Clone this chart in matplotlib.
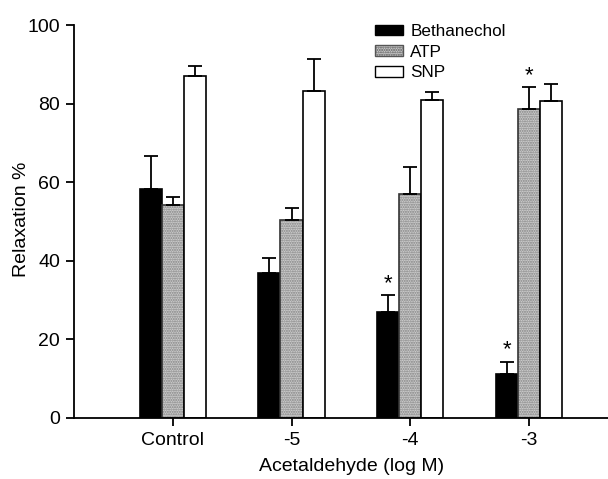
import numpy as np
import matplotlib
matplotlib.use('Agg')
from matplotlib import pyplot as plt
from matplotlib.patches import Patch

plt.rcParams['font.family'] = ['Liberation Sans', 'DejaVu Sans']

categories = ['Control', '-5', '-4', '-3']
beth = [58.3, 37.0, 26.9, 11.1]
beth_err = [8.4, 3.7, 4.3, 3.2]
atp = [54.2, 50.4, 57.1, 78.5]
atp_err = [2.0, 3.0, 6.8, 5.6]
snp = [87.1, 83.3, 80.9, 80.6]
snp_err = [2.4, 8.0, 2.1, 4.4]
# significance stars: (series index, category index)
stars = [(0, 2), (0, 3), (1, 3)]

fs = 14

fig = plt.figure(figsize=(6.08, 4.79), dpi=100)
ax = fig.add_axes([74/608, 1-418/479, 1-74/608, (418-25)/479])

x = np.arange(len(categories))
w = 0.186
ek = dict(ecolor='black', elinewidth=1.3, capsize=5, capthick=1.3)

ax.bar(x - w, beth, w, color='black', edgecolor='black', lw=1.2)
ax.errorbar(x - w, beth, yerr=[np.zeros(4), beth_err], fmt='none', **ek)

ax.bar(x, atp, w, color='#cccccc', edgecolor='#808080', hatch='.......', lw=0)
ax.bar(x, atp, w, fill=False, edgecolor='#333333', lw=1.2)
ax.errorbar(x, atp, yerr=[np.zeros(4), atp_err], fmt='none', **ek)

ax.bar(x + w, snp, w, color='white', edgecolor='black', lw=1.2)
ax.errorbar(x + w, snp, yerr=[np.zeros(4), snp_err], fmt='none', **ek)

vals = [beth, atp, snp]
errs = [beth_err, atp_err, snp_err]
for s, c in stars:
    ax.text(x[c] + (s - 1) * w, vals[s][c] + errs[s][c] + 0.3, '*',
            ha='center', va='bottom', fontsize=16)

ax.set_xlim(-0.835, 3.67)
ax.set_ylim(0, 100)
ax.set_yticks([0, 20, 40, 60, 80, 100])
ax.set_xticks(x)
ax.set_xticklabels(categories)
ax.spines['top'].set_visible(False)
ax.spines['right'].set_visible(False)
ax.spines['left'].set_linewidth(1.3)
ax.spines['bottom'].set_linewidth(1.3)
ax.tick_params(direction='out', length=6, width=1.3, labelsize=fs, pad=4)
ax.set_ylabel('Relaxation %', fontsize=fs)
ax.yaxis.set_label_coords(-0.082, 0.506)
ax.set_xlabel('Acetaldehyde (log M)', fontsize=fs)
ax.xaxis.set_label_coords(0.52, -0.103)

h = [Patch(facecolor='black', edgecolor='black'),
     Patch(facecolor='#cccccc', edgecolor='#555555', hatch='.......'),
     Patch(facecolor='white', edgecolor='black')]
ax.legend(h, ['Bethanechol', 'ATP', 'SNP'], loc='upper left',
          bbox_to_anchor=(0.564, 1.003), frameon=False, fontsize=12.3,
          handlelength=1.65, handleheight=0.55, handletextpad=0.4,
          labelspacing=0.34, borderaxespad=0, borderpad=0)

plt.savefig('out.png', dpi=100)
